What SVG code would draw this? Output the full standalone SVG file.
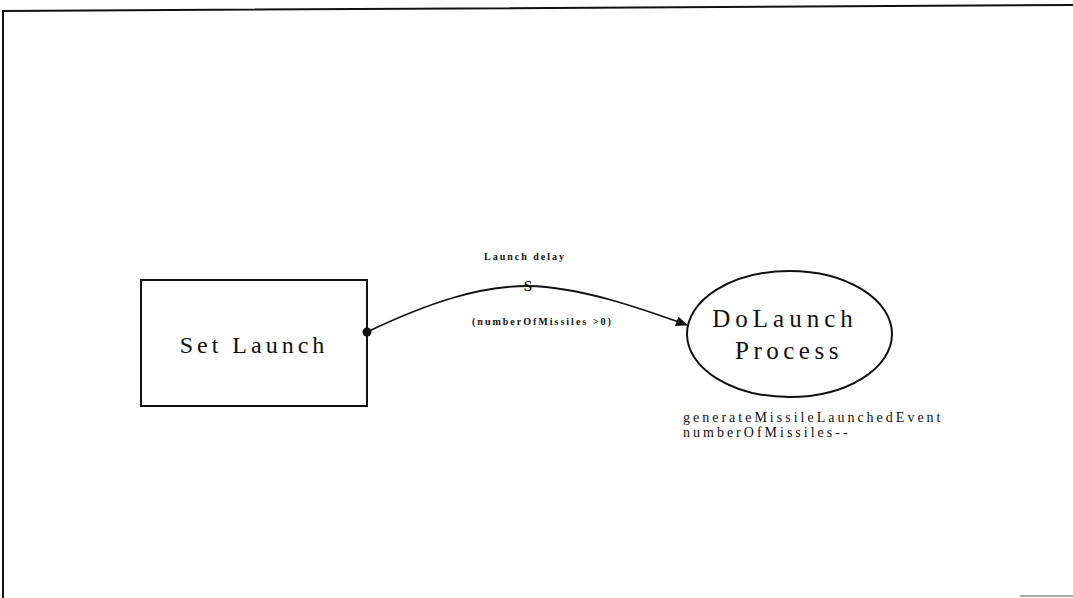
<svg xmlns="http://www.w3.org/2000/svg" width="1073" height="598" viewBox="0 0 1073 598">
<style>
.serif{font-family:"Liberation Serif","Times New Roman",serif;fill:#111}
.node{fill:#fff;stroke:#111;stroke-width:2}
.edge{fill:none;stroke:#111;stroke-width:1.8}
.lbl{font-size:10px;font-weight:bold;letter-spacing:2px}
.note{font-size:14px;letter-spacing:3px}
</style>
<defs>
<marker id="arr" markerWidth="12" markerHeight="10" refX="11" refY="5" orient="auto" markerUnits="userSpaceOnUse">
<path d="M0,0 L12,5 L0,10 z" fill="#111"/>
</marker>
</defs>
<rect width="1073" height="598" fill="#fff"/>
<g id="frame" fill="none" stroke="#111" stroke-width="2">
<path d="M3,598 L3,11 L1073,5"/>
<path d="M1020,596 L1073,596" stroke="#555" stroke-width="1"/>
</g>
<g id="set-launch">
<rect class="node" x="141" y="280" width="226" height="126"/>
<text class="serif" x="254" y="353" font-size="24" text-anchor="middle" letter-spacing="4">Set Launch</text>
</g>
<g id="dolaunch-process">
<ellipse class="node" cx="789.5" cy="334" rx="102.5" ry="63"/>
<text class="serif" x="785" y="327" font-size="25" text-anchor="middle" letter-spacing="5">DoLaunch</text>
<text class="serif" x="789" y="359" font-size="25" text-anchor="middle" letter-spacing="4.5">Process</text>
<text class="serif note" x="683" y="422">generateMissileLaunchedEvent</text>
<text class="serif note" x="683" y="437">numberOfMissiles--</text>
</g>
<g id="connectors">
<path class="edge" d="M367,332 C430,302 480,286 528,286 C580,287 640,308 687,325" marker-end="url(#arr)"/>
<circle cx="367" cy="332" r="4.5" fill="#111"/>
<text class="serif lbl" x="484" y="260">Launch delay</text>
<text class="serif" x="528" y="291" font-size="15" font-weight="bold" text-anchor="middle">S</text>
<text class="serif lbl" x="472" y="325">(numberOfMissiles &gt;0)</text>
</g>
</svg>
